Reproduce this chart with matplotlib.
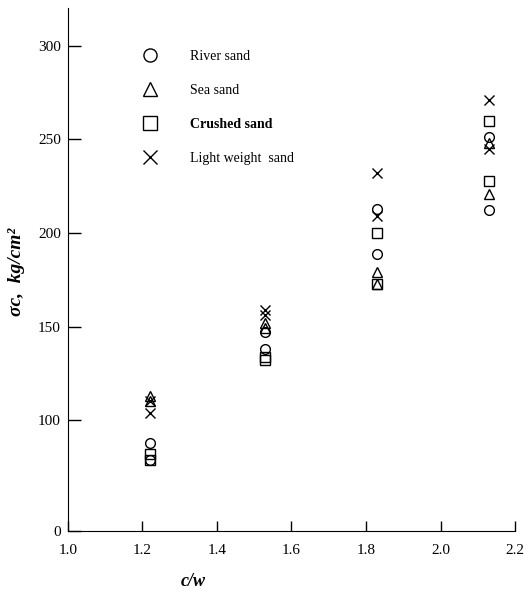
import numpy as np
import matplotlib.pyplot as plt

# c/w groups and compressive strength (kg/cm2), two readings per sand type
cw = [1.22, 1.53, 1.83, 2.13]

river_a = [88, 147, 213, 251]
river_b = [79, 138, 189, 212]
sea_a = [113, 152, 179, 248]
sea_b = [110, 149, 173, 221]
crushed_a = [82, 134, 200, 260]
crushed_b = [79, 132, 173, 228]
light_a = [110, 159, 232, 271]
light_b = [104, 156, 209, 245]

series = [
    ("River sand", "o", river_a, river_b),
    ("Sea sand", "^", sea_a, sea_b),
    ("Crushed sand", "s", crushed_a, crushed_b),
    ("Light weight  sand", "x", light_a, light_b),
]

xticks = [1.0, 1.2, 1.4, 1.6, 1.8, 2.0, 2.2]
yticks = [0, 100, 150, 200, 250, 300]

plt.rcParams["font.family"] = ["Liberation Serif", "DejaVu Serif"]

# the vertical axis is shortened below 70 (broken axis in the original)
BRK = 70.0
K = 0.417


def fwd(v):
    v = np.asarray(v, dtype=float)
    return np.where(v >= BRK, v, BRK - (BRK - v) * K)


def inv(u):
    u = np.asarray(u, dtype=float)
    return np.where(u >= BRK, u, BRK - (BRK - u) / K)


fig = plt.figure(figsize=(5.29, 5.92), dpi=100)
ax = fig.add_axes([0.128, 0.103, 0.846, 0.883])
ax.set_yscale("function", functions=(fwd, inv))

for name, mk, ya, yb in series:
    x = cw + cw
    y = ya + yb
    if mk == "x":
        ax.plot(x, y, linestyle="none", marker=mk, color="black",
                markersize=7, markeredgewidth=1.0, label=name)
    else:
        ax.plot(x, y, linestyle="none", marker=mk, markerfacecolor="none",
                markeredgecolor="black", markersize=7, markeredgewidth=1.0,
                label=name)

ax.set_xlim(1.0, 2.2)
ax.set_ylim(0, 320)
ax.set_xticks(xticks)
ax.set_yticks(yticks)
ax.set_xticklabels([f"{t:.1f}" for t in xticks])
ax.set_yticklabels([str(t) for t in yticks])

ax.spines["top"].set_visible(False)
ax.spines["right"].set_visible(False)
ax.tick_params(axis="both", direction="in", labelsize=11, width=1)
ax.tick_params(axis="y", length=9, pad=5)
ax.tick_params(axis="x", length=7, pad=9)

ax.set_xlabel("c/w", fontsize=13, fontstyle="italic", fontweight="bold")
ax.xaxis.set_label_coords(0.28, -0.08)
ax.set_ylabel("σc,  kg/cm²", fontsize=14, fontstyle="italic", fontweight="bold")
ax.yaxis.set_label_coords(-0.095, 0.495)

leg = ax.legend(loc="upper left", bbox_to_anchor=(0.270, 0.915),
                bbox_transform=fig.transFigure, frameon=False,
                handlelength=1.0, handletextpad=2.4, labelspacing=1.5,
                borderpad=0, borderaxespad=0, markerscale=1.35, fontsize=10)
for t in leg.get_texts():
    if t.get_text() == "Crushed sand":
        t.set_fontweight("bold")

fig.savefig("out.png", dpi=100)
